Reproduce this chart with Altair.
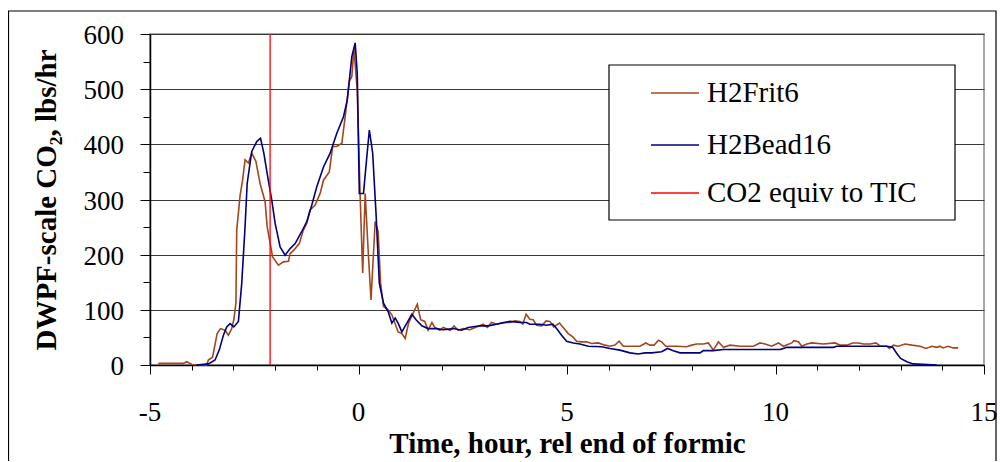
import altair as alt
import pandas as pd

# ---- data ----
frit_t = [-4.80, -4.78, -4.20, -4.12, -4.00, -3.64, -3.60, -3.50, -3.39, -3.31, -3.20, -3.12, -3.04,
          -2.99, -2.94, -2.92, -2.84, -2.78, -2.72, -2.64, -2.56, -2.46, -2.36, -2.24, -2.19, -2.06,
          -1.92, -1.80, -1.68, -1.64, -1.52, -1.42, -1.32, -1.24, -1.16, -1.04, -0.92, -0.84, -0.70,
          -0.62, -0.52, -0.40, -0.32, -0.22, -0.16, -0.11, -0.03, 0.04, 0.10, 0.16, 0.24, 0.30, 0.40,
          0.47, 0.53, 0.60, 0.71, 0.80, 0.95, 1.04, 1.12, 1.20, 1.31, 1.41, 1.49, 1.59, 1.67, 1.76,
          1.83, 1.95, 2.03, 2.20, 2.29, 2.39, 2.51, 2.67, 2.83, 2.99, 3.09, 3.19, 3.31, 3.47, 3.63,
          3.75, 3.87, 3.94, 4.02, 4.11, 4.19, 4.27, 4.39, 4.50, 4.59, 4.68, 4.82, 4.91, 5.03, 5.14,
          5.23, 5.35, 5.47, 5.59, 5.75, 5.91, 6.03, 6.15, 6.25, 6.35, 6.59, 6.75, 6.89, 6.99, 7.09,
          7.19, 7.27, 7.37, 7.63, 7.87, 7.99, 8.11, 8.27, 8.39, 8.51, 8.63, 8.75, 8.91, 9.15, 9.47,
          9.63, 9.75, 9.91, 10.07, 10.19, 10.39, 10.44, 10.55, 10.63, 10.75, 10.87, 11.15, 11.43,
          11.55, 11.71, 11.85, 11.99, 12.11, 12.27, 12.41, 12.51, 12.67, 12.73, 12.83, 12.94, 13.11,
          13.27, 13.47, 13.61, 13.75, 13.87, 13.94, 14.02, 14.14, 14.26, 14.38]
frit_v = [0, 3, 3, 6, 1, 0, 9, 14, 57, 66, 63, 54, 66,
          82, 112, 245, 307, 335, 372, 366, 384, 369, 329, 296, 251, 196,
          181, 187, 188, 202, 211, 220, 245, 257, 281, 290, 311, 335, 350,
          396, 396, 402, 450, 514, 523, 574, 498, 305, 167, 311, 196, 118, 260,
          242, 148, 106, 100, 91, 60, 57, 48, 76, 94, 110, 82, 79, 63, 77,
          68, 63, 68, 63, 71, 63, 66, 64, 69, 74, 68, 77, 74, 77, 77,
          80, 79, 74, 92, 83, 82, 72, 71, 80, 79, 69, 76, 68, 57, 51,
          43, 42, 42, 39, 40, 36, 34, 36, 43, 34, 34, 34, 40, 36, 36,
          45, 42, 34, 34, 33, 36, 38, 38, 40, 27, 42, 32, 36, 34, 34,
          40, 38, 34, 40, 34, 40, 44, 42, 34, 38, 40, 38, 40,
          36, 36, 40, 40, 38, 38, 40, 34, 34, 30, 36, 34, 38,
          36, 34, 30, 34, 32, 34, 31, 34, 31, 31]

bead_t = [-3.88, -3.60, -3.44, -3.34, -3.24, -3.16, -3.08, -2.99, -2.88, -2.80, -2.72, -2.67, -2.56,
          -2.44, -2.35, -2.27, -2.19, -2.08, -2.00, -1.88, -1.76, -1.64, -1.52, -1.36, -1.24, -1.12,
          -1.00, -0.84, -0.68, -0.52, -0.36, -0.27, -0.16, -0.08, -0.03, 0.02, 0.12, 0.20, 0.26,
          0.34, 0.42, 0.50, 0.60, 0.71, 0.80, 0.88, 0.95, 1.04, 1.16, 1.28, 1.38, 1.52, 1.67, 1.88,
          2.03, 2.27, 2.47, 2.63, 2.91, 3.11, 3.31, 3.63, 3.87, 4.03, 4.11, 4.35, 4.51, 4.66, 4.75,
          4.87, 4.99, 5.15, 5.31, 5.51, 5.83, 6.03, 6.27, 6.51, 6.71, 6.87, 7.03, 7.27, 7.41, 7.55,
          7.71, 8.19, 8.27, 8.51, 8.75, 10.11, 10.19, 10.27, 11.39, 11.47, 12.67, 12.81, 12.91,
          13.00, 13.15, 13.30, 13.87]
bead_v = [0, 2, 9, 27, 54, 69, 75, 69, 79, 148, 251, 329, 387,
          405, 411, 384, 347, 299, 257, 214, 199, 211, 220, 242, 260, 290,
          323, 359, 384, 420, 450, 480, 559, 584, 529, 311, 311, 378, 426,
          384, 275, 148, 112, 97, 76, 85, 76, 60, 76, 92, 82, 71, 66, 66,
          64, 66, 63, 68, 71, 71, 74, 79, 77, 77, 74, 74, 72, 74, 66,
          54, 43, 40, 38, 34, 33, 30, 27, 22, 20, 22, 22, 24, 30, 26,
          22, 22, 26, 26, 28, 28, 30, 32, 32, 34, 34, 32, 21,
          12, 6, 2, 0]

tic_t = [-2.12, -2.12]
tic_v = [0, 600]

series_names = ["H2Frit6", "H2Bead16", "CO2 equiv to TIC"]
series_colors = ["#A4461C", "#000080", "#FF0000"]
x_ticks = list(range(-5, 16))
y_ticks = list(range(0, 601, 50))
x_label_vals = [-5, 0, 5, 10, 15]
x_label_text = ["-5", "0", "5", "10", "15"]
y_label_vals = [0, 100, 200, 300, 400, 500, 600]
y_label_text = ["0", "100", "200", "300", "400", "500", "600"]

rows = []
for name, ts, vs in zip(series_names, [frit_t, bead_t, tic_t], [frit_v, bead_v, tic_v]):
    for i, (t, v) in enumerate(zip(ts, vs)):
        rows.append({"series": name, "t": t, "v": v, "i": i})
df = pd.DataFrame(rows)

FONT = "Liberation Serif"

x_enc = alt.X(
    "t:Q",
    scale=alt.Scale(domain=[-5, 15], nice=False, zero=False),
    axis=alt.Axis(
        values=x_ticks,
        title="Time, hour, rel end of formic",
        labels=False,
        grid=False,
        tickSize={"condition": {"test": "datum.value % 5 == 0", "value": 9}, "value": 5},
        tickColor="black",
        tickWidth=1,
        domainColor="black",
        domainWidth=1.5,
        titleFont=FONT,
        titleFontSize=29,
        titleFontWeight="bold",
        titleColor="black",
        titlePadding=55,
    ),
)
y_enc = alt.Y(
    "v:Q",
    scale=alt.Scale(domain=[0, 600], nice=False),
    axis=alt.Axis(
        values=y_ticks,
        title="DWPF-scale CO₂, lbs/hr",
        labels=False,
        gridOpacity={"condition": {"test": "datum.value % 100 == 0", "value": 1}, "value": 0},
        gridColor="#3a3a3a",
        gridWidth=1.2,
        tickSize={"condition": {"test": "datum.value % 100 == 0", "value": 10}, "value": 7},
        tickColor="black",
        tickWidth=1,
        domainColor="black",
        domainWidth=1.5,
        titleFont=FONT,
        titleFontSize=29,
        titleFontWeight="bold",
        titleColor="black",
        titlePadding=78,
    ),
)
color_enc = alt.Color(
    "series:N",
    scale=alt.Scale(domain=series_names, range=series_colors),
    legend=None,
)

base = alt.Chart(df).mark_line(strokeWidth=1.6).encode(
    x=x_enc, y=y_enc, color=color_enc, order="i:Q"
)
frit = base.transform_filter(alt.datum.series == "H2Frit6")
bead = base.transform_filter(alt.datum.series == "H2Bead16")
tic = base.transform_filter(alt.datum.series == "CO2 equiv to TIC").mark_line(strokeWidth=1.3)

# tick labels (serif text)
x_lab = alt.Chart(pd.DataFrame({"t": x_label_vals, "lab": x_label_text})).mark_text(
    font=FONT, fontSize=27, color="black", align="center", baseline="alphabetic"
).encode(x=x_enc, y=alt.value(387), text="lab:N")
y_lab = alt.Chart(pd.DataFrame({"v": y_label_vals, "lab": y_label_text})).mark_text(
    font=FONT, fontSize=27, color="black", align="right", baseline="middle", dy=2
).encode(y=y_enc, x=alt.value(-26), text="lab:N")

one = pd.DataFrame({"k": [0]})
outer_frame = alt.Chart(one).mark_rect(fillOpacity=0, stroke="black", strokeWidth=1.2).encode(
    x=alt.value(-141.5), x2=alt.value(846), y=alt.value(-23), y2=alt.value(520)
)
legend_box = alt.Chart(one).mark_rect(fill="white", stroke="black", strokeWidth=1.2).encode(
    x=alt.value(459), x2=alt.value(805), y=alt.value(31), y2=alt.value(186)
)

legend_rows_y = [59, 111, 159]
legend_layers = []
for name, col, yy in zip(series_names, series_colors, legend_rows_y):
    d = pd.DataFrame({"name": [name]})
    legend_layers.append(
        alt.Chart(d).mark_rule(color=col, strokeWidth=1.5).encode(
            x=alt.value(501), x2=alt.value(549), y=alt.value(yy)
        )
    )
    legend_layers.append(
        alt.Chart(d).mark_text(
            font=FONT, fontSize=29, color="black", align="left", baseline="middle"
        ).encode(x=alt.value(557), y=alt.value(yy), text="name:N")
    )

chart = (
    alt.layer(outer_frame, legend_box, frit, bead, tic, x_lab, y_lab, *legend_layers)
    .properties(
        width=834,
        height=331,
        padding={"left": 142, "top": 26, "right": 14, "bottom": 96},
        autosize=alt.AutoSizeParams(type="none"),
    )
    .configure(background="white", font=FONT)
    .configure_view(stroke="#8a8a8a", strokeWidth=1.5)
)

chart.save("out.html", embed_options={"renderer": "svg", "actions": False})
